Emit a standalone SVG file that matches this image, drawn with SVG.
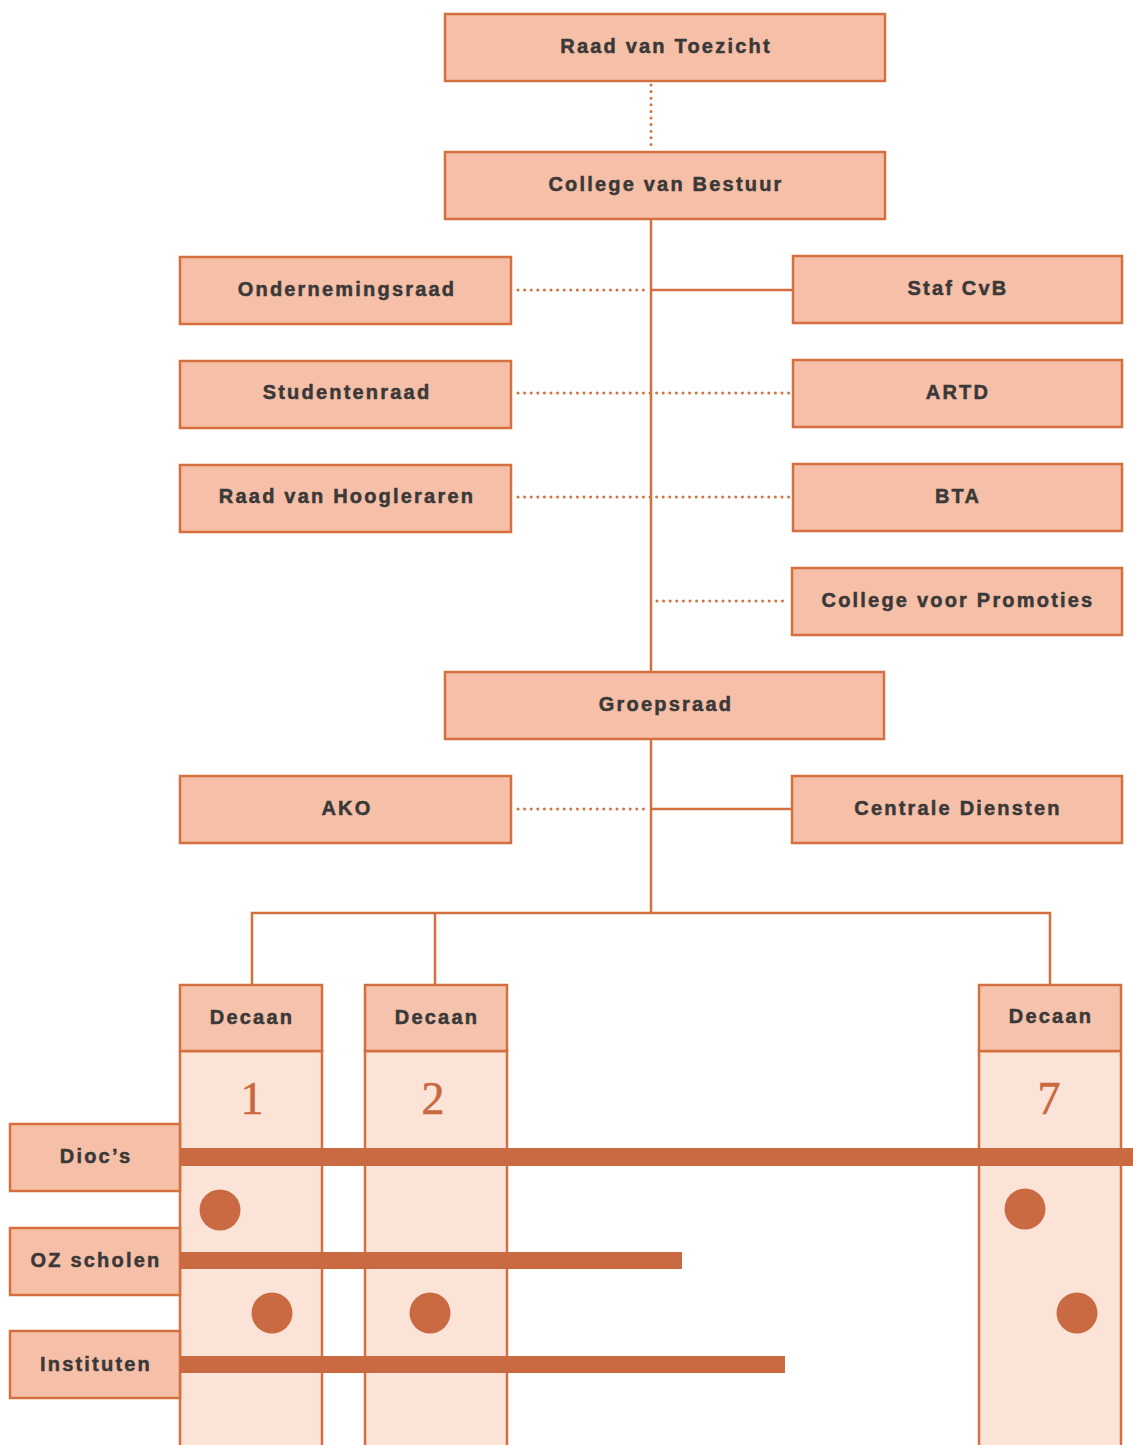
<svg xmlns="http://www.w3.org/2000/svg" width="1133" height="1445" viewBox="0 0 1133 1445">
<style>
.box{fill:#f5c0a7;stroke:#d4703f;stroke-width:2.5}
.hdr{fill:#f5c3ac;stroke:#d4703f;stroke-width:2.5}
.col{fill:#fce3d8;stroke:#d4703f;stroke-width:2.5}
.lbl{font-family:"Liberation Sans",Arial,sans-serif;font-weight:bold;font-size:20px;letter-spacing:2.2px;fill:#3a3838;stroke:#3a3838;stroke-width:0.5;text-anchor:middle;dominant-baseline:central}
.num{font-family:"Liberation Serif","Times New Roman",serif;font-size:46px;fill:#c8693f;stroke:#c8693f;stroke-width:0.6;text-anchor:middle;dominant-baseline:central}
.solid{stroke:#d4703f;stroke-width:2.5;fill:none}
.dot{stroke:#d4703f;stroke-width:3;stroke-linecap:round;stroke-dasharray:0 6.6;fill:none}
.bar{fill:#c96a42}
.disc{fill:#c96a42}
</style>
<rect width="1133" height="1445" fill="#ffffff"/>
<g id="connectors">
<line class="dot" x1="651" y1="85" x2="651" y2="150"/>
<line class="solid" x1="651" y1="219" x2="651" y2="672"/>
<line class="solid" x1="651" y1="739" x2="651" y2="913"/>
<line class="dot" x1="518" y1="290" x2="646" y2="290"/>
<line class="solid" x1="651" y1="290" x2="793" y2="290"/>
<line class="dot" x1="518" y1="393" x2="790" y2="393"/>
<line class="dot" x1="518" y1="497" x2="790" y2="497"/>
<line class="dot" x1="657" y1="601" x2="788" y2="601"/>
<line class="dot" x1="518" y1="809" x2="646" y2="809"/>
<line class="solid" x1="651" y1="809" x2="792" y2="809"/>
<polyline class="solid" points="252,985 252,913 1050,913 1050,985"/>
<line class="solid" x1="435" y1="913" x2="435" y2="985"/>
</g>
<g id="raad-van-toezicht"><rect class="box" x="445" y="14" width="440" height="67"/><text class="lbl" x="666" y="46">Raad van Toezicht</text></g>
<g id="college-van-bestuur"><rect class="box" x="445" y="152" width="440" height="67"/><text class="lbl" x="666" y="184">College van Bestuur</text></g>
<g id="ondernemingsraad"><rect class="box" x="180" y="257" width="331" height="67"/><text class="lbl" x="347" y="289">Ondernemingsraad</text></g>
<g id="studentenraad"><rect class="box" x="180" y="361" width="331" height="67"/><text class="lbl" x="347" y="392">Studentenraad</text></g>
<g id="raad-van-hoogleraren"><rect class="box" x="180" y="465" width="331" height="67"/><text class="lbl" x="347" y="496">Raad van Hoogleraren</text></g>
<g id="staf-cvb"><rect class="box" x="793" y="256" width="329" height="67"/><text class="lbl" x="958" y="288">Staf CvB</text></g>
<g id="artd"><rect class="box" x="793" y="360" width="329" height="67"/><text class="lbl" x="958" y="392">ARTD</text></g>
<g id="bta"><rect class="box" x="793" y="464" width="329" height="67"/><text class="lbl" x="958" y="496">BTA</text></g>
<g id="college-voor-promoties"><rect class="box" x="792" y="568" width="330" height="67"/><text class="lbl" x="958" y="600">College voor Promoties</text></g>
<g id="groepsraad"><rect class="box" x="445" y="672" width="439" height="67"/><text class="lbl" x="666" y="704">Groepsraad</text></g>
<g id="ako"><rect class="box" x="180" y="776" width="331" height="67"/><text class="lbl" x="347" y="808">AKO</text></g>
<g id="centrale-diensten"><rect class="box" x="792" y="776" width="330" height="67"/><text class="lbl" x="958" y="808">Centrale Diensten</text></g>
<g id="decaan-1"><rect class="col" x="180" y="1051" width="142" height="400"/><rect class="hdr" x="180" y="985" width="142" height="66"/><text class="lbl" x="252" y="1017">Decaan</text><text class="num" x="252" y="1098">1</text></g>
<g id="decaan-2"><rect class="col" x="365" y="1051" width="142" height="400"/><rect class="hdr" x="365" y="985" width="142" height="66"/><text class="lbl" x="437" y="1017">Decaan</text><text class="num" x="433" y="1098">2</text></g>
<g id="decaan-7"><rect class="col" x="979" y="1051" width="142" height="400"/><rect class="hdr" x="979" y="985" width="142" height="66"/><text class="lbl" x="1051" y="1016">Decaan</text><text class="num" x="1049" y="1098">7</text></g>
<g id="diocs"><rect class="box" x="10" y="1124" width="170" height="67"/><text class="lbl" x="96" y="1156">Dioc’s</text></g>
<g id="oz-scholen"><rect class="box" x="10" y="1228" width="170" height="67"/><text class="lbl" x="96" y="1260">OZ scholen</text></g>
<g id="instituten"><rect class="box" x="10" y="1331" width="170" height="67"/><text class="lbl" x="96" y="1364">Instituten</text></g>
<g id="bars">
<rect class="bar" x="180" y="1148" width="953" height="18"/>
<rect class="bar" x="180" y="1252" width="502" height="17"/>
<rect class="bar" x="180" y="1356" width="605" height="17"/>
</g>
<g id="dots">
<circle class="disc" cx="220" cy="1210" r="20.5"/>
<circle class="disc" cx="272" cy="1313" r="20.5"/>
<circle class="disc" cx="430" cy="1313" r="20.5"/>
<circle class="disc" cx="1025" cy="1209" r="20.5"/>
<circle class="disc" cx="1077" cy="1313" r="20.5"/>
</g>
</svg>
